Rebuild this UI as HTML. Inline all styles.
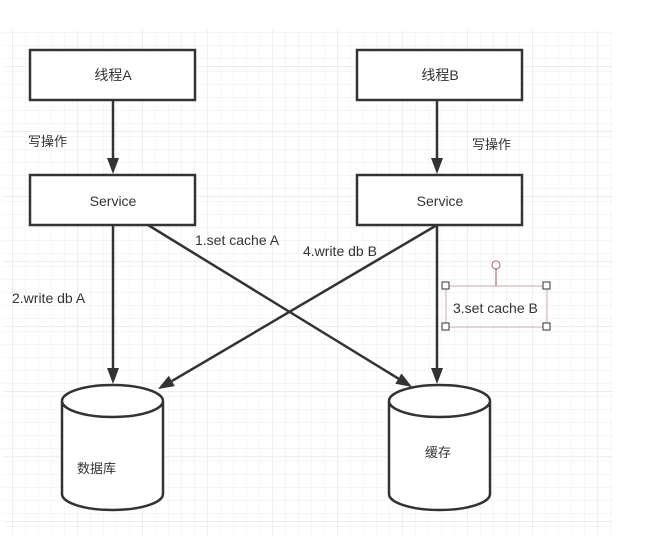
<!DOCTYPE html>
<html><head><meta charset="utf-8"><style>
body{margin:0;width:660px;height:540px;background:#fff;overflow:hidden}
svg{display:block}
text{font-family:"Liberation Sans","Noto Sans CJK SC",sans-serif;fill:#333}
</style></head><body>
<svg width="660" height="540" viewBox="0 0 660 540">
<defs>
<pattern id="minor" x="0" y="7" width="13" height="13" patternUnits="userSpaceOnUse">
<path d="M13 0V13M0 13H13" stroke="#eeeeee" stroke-width="1" fill="none"/></pattern>
<pattern id="major" x="13" y="2" width="65" height="65" patternUnits="userSpaceOnUse">
<path d="M65 0V65M0 65H65" stroke="#dddddd" stroke-width="1" fill="none"/></pattern>
</defs>
<rect x="3" y="30" width="610" height="505" fill="url(#minor)"/>
<rect x="3" y="30" width="610" height="505" fill="url(#major)"/>
<g stroke="#333" stroke-width="2.5" fill="#fff">
<rect x="30" y="50" width="165" height="50"/>
<rect x="357" y="50" width="165" height="50"/>
<rect x="30" y="175" width="165" height="50"/>
<rect x="357" y="175" width="165" height="50"/>
<path d="M62 401V494A50.5 16 0 0 0 163 494V401A50.5 16 0 0 0 62 401A50.5 16 0 0 0 163 401"/>
<path d="M389 401V494A50.5 16 0 0 0 490 494V401A50.5 16 0 0 0 389 401A50.5 16 0 0 0 490 401"/>
</g>
<g stroke="#333" stroke-width="2.5" fill="none">
<path d="M113 100V160"/><path d="M437 100V160"/>
<path d="M113 225V370"/><path d="M437 225V370"/>
<path d="M148 225L399 379"/><path d="M437 225L172 381"/>
</g>
<g fill="#333">
<path d="M107 158L119 158L113 174z"/><path d="M431 158L443 158L437 174z"/>
<path d="M107 368L119 368L113 384z"/><path d="M431 368L443 368L437 384z"/>
<path d="M412 387L395.3 383.7L401.5 373.5z"/>
<path d="M158 389L168.8 375.7L174.8 386.1z"/>
</g>
<rect x="446" y="286" width="101" height="41" fill="none" stroke="#c9a8a8" stroke-width="1"/>
<line x1="496" y1="269" x2="496" y2="286" stroke="#a05050" stroke-width="1"/>
<circle cx="496" cy="265" r="4" fill="#fff" stroke="#b08080" stroke-width="1.2"/>
<g fill="#fff" stroke="#333" stroke-width="1">
<rect x="442" y="282" width="7" height="7"/><rect x="543" y="282" width="7" height="7"/>
<rect x="442" y="323" width="7" height="7"/><rect x="543" y="323" width="7" height="7"/>
</g>
<g font-size="14">
<text x="113" y="80" text-anchor="middle">线程A</text>
<text x="440" y="80" text-anchor="middle">线程B</text>
<text x="113" y="206" text-anchor="middle">Service</text>
<text x="440" y="206" text-anchor="middle">Service</text>
<text x="195" y="245">1.set cache A</text>
<text x="303" y="256">4.write db B</text>
<text x="12" y="303">2.write db A</text>
<text x="453" y="313">3.set cache B</text>
</g>
<g font-size="13">
<text x="28" y="146">写操作</text>
<text x="472" y="149">写操作</text>
<text x="77" y="473">数据库</text>
<text x="425" y="457">缓存</text>
</g>
</svg>
</body></html>
